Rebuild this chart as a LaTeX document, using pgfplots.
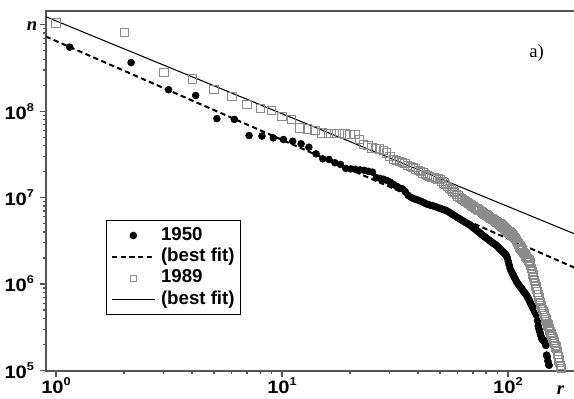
\documentclass[border=0pt]{standalone}
\usepackage{fontspec}
\setmainfont{Liberation Sans}
\newfontfamily\lsb{Liberation Sans}[FakeStretch=1.12]
\newfontfamily\tnr{Liberation Serif}
\usepackage{pgfplots}
\pgfplotsset{compat=1.18}
\usepackage{pgfplotstable}
\usetikzlibrary{calc}
\definecolor{axgray}{RGB}{85,85,85}
\definecolor{sqgray}{RGB}{140,140,140}
\newcommand{\tl}[1]{{\lsb\bfseries\fontsize{13.5}{14}\selectfont 10\raisebox{6pt}{\fontsize{8.5}{9}\selectfont #1}}}

\pgfplotstableread{
r n
1.15 5.50e8
2.15 3.65e8
3.15 1.77e8
4.15 1.52e8
5.15 8.20e7
6.15 8.04e7
7.15 5.22e7
8.15 5.15e7
9.15 4.91e7
10.15 4.70e7
11.15 4.49e7
12.15 4.19e7
13.15 3.83e7
14.15 3.21e7
15.15 2.81e7
16.15 2.76e7
17.15 2.53e7
18.15 2.42e7
19.15 2.18e7
20.15 2.15e7
21.15 2.12e7
22.15 2.09e7
23.15 2.07e7
24.15 2.01e7
25.15 1.97e7
26.15 1.70e7
27.15 1.67e7
28.15 1.63e7
29.15 1.58e7
30.15 1.51e7
31.15 1.42e7
32.15 1.35e7
33.15 1.29e7
34.15 1.26e7
35.15 1.17e7
36.15 1.06e7
37.15 1.01e7
38.15 9.75e6
39.15 9.53e6
40.15 9.31e6
41.15 9.08e6
42.15 8.81e6
43.15 8.55e6
44.15 8.34e6
45.15 8.20e6
46.15 8.09e6
47.15 7.94e6
48.15 7.80e6
49.15 7.64e6
50.15 7.50e6
51.15 7.36e6
52.15 7.23e6
53.15 7.10e6
54.15 6.93e6
55.15 6.73e6
56.15 6.53e6
57.15 6.34e6
58.15 6.17e6
59.15 5.98e6
60.15 5.82e6
61.15 5.68e6
62.15 5.52e6
63.15 5.40e6
64.15 5.26e6
65.15 5.13e6
66.15 5.01e6
67.15 4.90e6
68.15 4.79e6
69.15 4.63e6
70.15 4.50e6
71.15 4.37e6
72.15 4.25e6
73.15 4.12e6
74.15 4.01e6
75.15 3.89e6
76.15 3.78e6
77.15 3.68e6
78.15 3.59e6
79.15 3.50e6
80.15 3.41e6
81.15 3.33e6
82.15 3.25e6
83.15 3.18e6
84.15 3.10e6
85.15 3.03e6
86.15 2.96e6
87.15 2.90e6
88.15 2.84e6
89.15 2.77e6
90.15 2.70e6
91.15 2.62e6
92.15 2.55e6
93.15 2.47e6
94.15 2.40e6
95.15 2.34e6
96.15 2.28e6
97.15 2.22e6
98.15 2.16e6
99.15 2.04e6
100.15 1.84e6
101.15 1.67e6
102.15 1.51e6
103.15 1.43e6
104.15 1.36e6
105.15 1.29e6
106.15 1.23e6
107.15 1.17e6
108.15 1.12e6
109.15 1.06e6
110.15 1.03e6
111.15 9.95e5
112.15 9.64e5
113.15 9.33e5
114.15 9.06e5
115.15 8.79e5
116.15 8.51e5
117.15 8.26e5
118.15 8.02e5
119.15 7.80e5
120.15 7.57e5
121.15 7.35e5
122.15 7.03e5
123.15 6.75e5
124.15 6.47e5
125.15 6.19e5
126.15 5.94e5
127.15 5.70e5
128.15 5.48e5
129.15 5.26e5
130.15 5.06e5
131.15 4.86e5
132.15 4.68e5
133.15 4.49e5
134.15 4.33e5
135.15 3.77e5
136.15 3.27e5
137.15 3.02e5
138.15 2.82e5
139.15 2.65e5
140.15 2.49e5
141.15 2.33e5
142.15 2.29e5
143.15 2.25e5
144.15 2.21e5
145.15 2.17e5
146.15 2.04e5
147.15 1.95e5
148.15 1.51e5
149.15 1.45e5
150.15 1.29e5
151.15 1.17e5
152.15 1.15e5
}\dataA

\pgfplotstableread{
r n
1 1.05e9
2 8.09e8
3 2.80e8
4 2.37e8
5 1.80e8
6 1.47e8
7 1.20e8
8 1.07e8
9 1.03e8
10 8.75e7
11 8.05e7
12 6.40e7
13 6.24e7
14 6.01e7
15 5.61e7
16 5.56e7
17 5.52e7
18 5.50e7
19 5.46e7
20 5.41e7
21 5.36e7
22 4.70e7
23 4.11e7
24 4.01e7
25 3.77e7
26 3.72e7
27 3.67e7
28 3.55e7
29 3.30e7
30 3.02e7
31 2.76e7
32 2.69e7
33 2.62e7
34 2.55e7
35 2.47e7
36 2.38e7
37 2.30e7
38 2.22e7
39 2.15e7
40 2.07e7
41 2.00e7
42 1.93e7
43 1.86e7
44 1.80e7
45 1.76e7
46 1.73e7
47 1.70e7
48 1.67e7
49 1.65e7
50 1.63e7
51 1.55e7
52 1.48e7
53 1.41e7
54 1.35e7
55 1.29e7
56 1.24e7
57 1.19e7
58 1.14e7
59 1.09e7
60 1.05e7
61 1.01e7
62 9.79e6
63 9.55e6
64 9.29e6
65 9.04e6
66 8.79e6
67 8.57e6
68 8.36e6
69 8.15e6
70 7.94e6
71 7.74e6
72 7.57e6
73 7.38e6
74 7.21e6
75 7.05e6
76 6.89e6
77 6.73e6
78 6.58e6
79 6.44e6
80 6.30e6
81 6.17e6
82 6.04e6
83 5.92e6
84 5.79e6
85 5.68e6
86 5.56e6
87 5.46e6
88 5.35e6
89 5.25e6
90 5.14e6
91 5.05e6
92 4.95e6
93 4.83e6
94 4.72e6
95 4.60e6
96 4.50e6
97 4.39e6
98 4.29e6
99 4.19e6
100 4.09e6
101 4.00e6
102 3.91e6
103 3.82e6
104 3.74e6
105 3.66e6
106 3.58e6
107 3.50e6
108 3.37e6
109 3.21e6
110 3.05e6
111 2.91e6
112 2.81e6
113 2.70e6
114 2.61e6
115 2.52e6
116 2.43e6
117 2.34e6
118 2.26e6
119 2.19e6
120 2.11e6
121 2.04e6
122 1.97e6
123 1.91e6
124 1.85e6
125 1.79e6
126 1.66e6
127 1.52e6
128 1.41e6
129 1.29e6
130 1.20e6
131 1.10e6
132 1.02e6
133 9.42e5
134 8.73e5
135 8.09e5
136 7.50e5
137 6.95e5
138 6.46e5
139 6.04e5
140 5.71e5
141 5.40e5
142 5.11e5
143 4.83e5
144 4.57e5
145 4.34e5
146 4.10e5
147 3.89e5
148 3.69e5
149 3.52e5
150 3.36e5
151 3.21e5
152 3.06e5
153 2.92e5
154 2.80e5
155 2.67e5
156 2.56e5
157 2.45e5
158 2.34e5
159 2.24e5
160 2.14e5
161 2.05e5
162 1.96e5
163 1.88e5
164 1.80e5
165 1.68e5
166 1.55e5
167 1.44e5
168 1.33e5
169 1.23e5
170 1.14e5
171 1.10e5
172 1.06e5
}\dataB

\begin{document}
\begin{tikzpicture}
\begin{axis}[
  scale only axis, width=397.5pt, height=270pt,
  xmode=log, ymode=log,
  xmin=0.903, xmax=200, ymin=1e5, ymax=1.46e9,
  axis line style={draw=axgray, line width=1.5pt},
  tick pos=left, tick align=outside,
  major tick length=4.5pt, minor tick length=2.6pt,
  every tick/.style={draw=axgray, line width=0.9pt},
  xtick={1,10,100}, xticklabels={\tl{0},\tl{1},\tl{2}},
  minor xtick={2,3,4,5,6,7,8,9,20,30,40,50,60,70,80,90,200},
  ytick={1e5,1e6,1e7,1e8,1e9},
  yticklabels={\tl{5},\tl{6},\tl{7},\tl{8},{}},
  minor ytick={2e5,3e5,4e5,5e5,6e5,7e5,8e5,9e5,2e6,3e6,4e6,5e6,6e6,7e6,8e6,9e6,2e7,3e7,4e7,5e7,6e7,7e7,8e7,9e7,2e8,3e8,4e8,5e8,6e8,7e8,8e8,9e8},
  xticklabel style={yshift=2.5pt},
  yticklabel style={xshift=-1pt},
  legend style={at={(rel axis cs:0.1126,0.1547)}, anchor=south west,
    draw=black, line width=1pt, inner xsep=3.5pt, inner ysep=3pt,
    font=\bfseries\fontsize{14}{14}\selectfont, row sep=0pt, column sep=3pt,
    nodes={inner sep=1pt, text height=10.5pt, text depth=3.5pt}},
  legend cell align=left,
]
\addplot[only marks, mark=*, mark size=2.6pt, black,
  legend image code/.code={\path (0pt,0pt) (32pt,0pt); \draw[black, mark=*, mark size=2.3pt] plot coordinates {(16pt,0pt)};}]
  table[x=r,y=n] {\dataA};
\addlegendentry{1950}
\addplot[black, line width=1.5pt, dash pattern=on 4pt off 2.5pt,
  legend image code/.code={\draw[black, line width=1.5pt, dash pattern=on 4pt off 2.5pt] (0pt,0pt) -- (32pt,0pt);}]
  coordinates {(0.9,7.31e8) (200,1.52e6)};
\addlegendentry{(best fit)}
\addplot[only marks, mark=square, mark size=3.1pt, sqgray, mark options={line width=0.6pt},
  legend image code/.code={\path (0pt,0pt) (32pt,0pt); \draw[sqgray, line width=0.6pt, mark=square, mark size=2.4pt] plot coordinates {(16pt,0pt)};}]
  table[x=r,y=n] {\dataB};
\addlegendentry{1989}
\addplot[black, line width=0.8pt,
  legend image code/.code={\draw[black, line width=0.8pt] (0pt,0pt) -- (32pt,0pt);}]
  coordinates {(0.9,1.24e9) (200,3.75e6)};
\addlegendentry{(best fit)}
\coordinate (rpos) at (axis cs:171,1e5);
\coordinate (npos) at (axis cs:0.903,1e9);
\coordinate (apos) at (axis cs:134,4.72e8);
\end{axis}
\node[font=\tnr\bfseries\itshape\fontsize{14}{14}\selectfont, anchor=base] at ($(rpos)+(0,-18.3pt)$) {r};
\node[font=\tnr\bfseries\itshape\fontsize{14}{14}\selectfont, anchor=base] at ($(npos)+(-10.5pt,-4.3pt)$) {n};
\node[font=\tnr\fontsize{14}{14}\selectfont] at (apos) {a)};
\pgfresetboundingbox
\path[use as bounding box] ($(current axis.south west)+(-34.5pt,-21.2pt)$) rectangle ($(current axis.south west)+(396pt,277.9pt)$);
\end{tikzpicture}
\end{document}
